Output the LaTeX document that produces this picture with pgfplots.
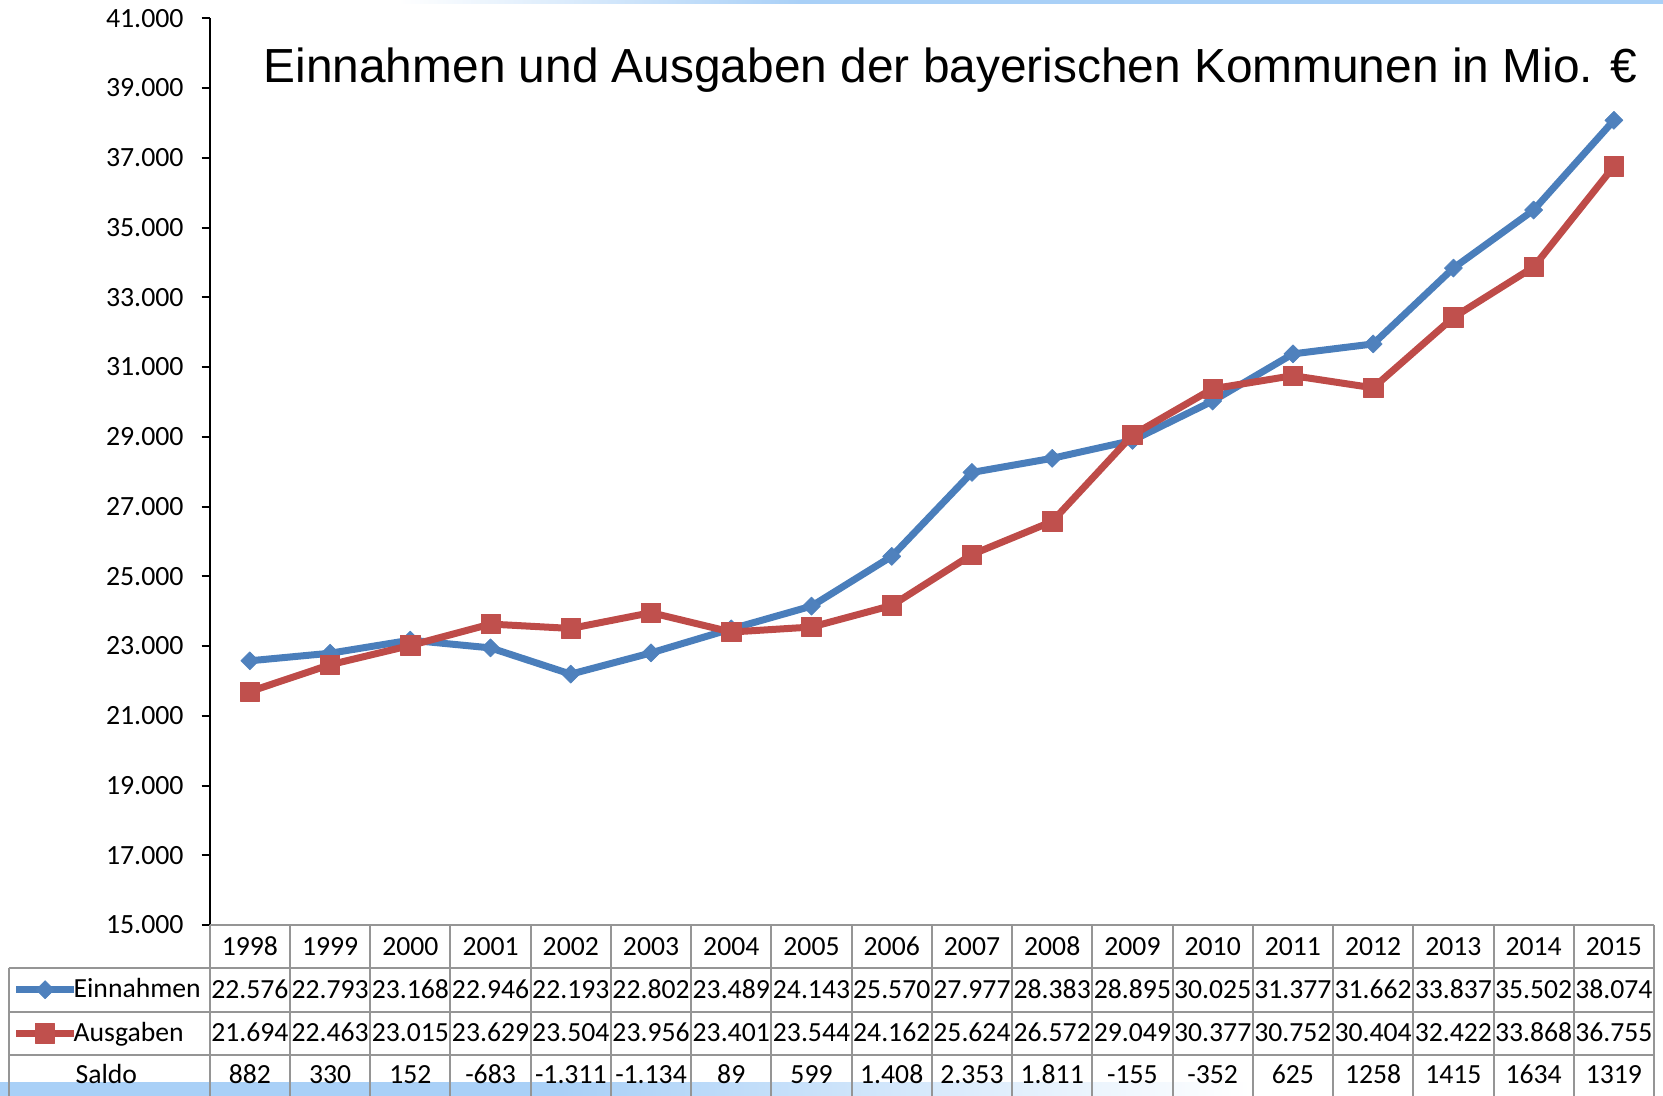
\documentclass[border=0pt]{standalone}
\usepackage{pgfplots}
\usepackage{pgfplotstable}
\pgfplotsset{compat=1.18}
\usepackage{fontspec}
\setmainfont{Carlito}
\newfontfamily\titlefont{Liberation Sans}
\definecolor{einL}{HTML}{4A7EBB}
\definecolor{einM}{HTML}{4F81BD}
\definecolor{ausL}{HTML}{BE4B48}
\definecolor{ausM}{HTML}{C0504D}
\definecolor{tabline}{HTML}{959595}
\definecolor{deco}{HTML}{A9D0F7}

\pgfplotstableread{
i ein aus
0 22576 21694
1 22793 22463
2 23168 23015
3 22946 23629
4 22193 23504
5 22802 23956
6 23489 23401
7 24143 23544
8 25570 24162
9 27977 25624
10 28383 26572
11 28895 29049
12 30025 30377
13 31377 30752
14 31662 30404
15 33837 32422
16 35502 33868
17 38074 36755
}\datatable

\newcommand\tabfont{\fontsize{8.3}{9.9}\selectfont}

\begin{document}
\begin{tikzpicture}
\useasboundingbox (0,0) rectangle (498.9pt,-328.8pt);
\begin{scope}[x=0.3pt,y=-0.3pt]
  \fill[deco] (0,1082) rectangle (560,1096);
  \shade[left color=deco,right color=white] (560,1082) rectangle (1250,1096);
  \shade[left color=white,right color=deco] (398,0) rectangle (800,4);
  \fill[deco] (800,0) rectangle (1663,4);
\end{scope}
\begin{axis}[
  at={(62.91pt,-277.5pt)}, anchor=south west,
  scale only axis, width=433.29pt, height=272.01pt,
  xmin=-0.5, xmax=17.5, ymin=15000, ymax=41000,
  clip=false,
  axis lines*=left,
  x axis line style={draw=none},
  y axis line style={black, line width=0.6pt, -},
  xtick=\empty,
  ytick={15000,17000,...,41000},
  scaled y ticks=false,
  tick align=outside,
  major tick length=2.4pt,
  ytick style={black, line width=0.6pt},
  yticklabel style={font=\fontsize{8.35}{10}\selectfont, xshift=-1.9pt},
  /pgf/number format/fixed,
  /pgf/number format/use comma,
  /pgf/number format/1000 sep={.},
  /pgf/number format/assume math mode=true,
  legend style={at={(-0.1362,-0.0474)}, anchor=north west, draw=none, fill=none,
    inner sep=0pt, outer sep=0pt, row sep=0pt, column sep=-1.1pt, font=\tabfont,
    nodes={inner sep=0pt, text height=9pt, text depth=4.05pt}},
  legend cell align=left,
  legend image code/.code={\draw[mark repeat=2,mark phase=2] plot coordinates {(0pt,0pt)(8.6pt,0pt)(17.2pt,0pt)};},
]
\addplot[einL, line width=2.1pt, line join=round, mark=diamond*, mark size=2.7pt,
  mark options={solid, fill=einM, draw=einM, line width=0.2pt, xscale=1.333}]
  table[x=i,y=ein]{\datatable};
\addlegendentry{Einnahmen}
\addplot[ausL, line width=2.1pt, line join=round, mark=square*, mark size=2.9pt,
  mark options={solid, fill=ausM, draw=ausM, line width=0.2pt}]
  table[x=i,y=aus]{\datatable};
\addlegendentry{Ausgaben}
\end{axis}
\begin{scope}[x=0.3pt,y=-0.3pt]
  \draw[tabline, line width=0.6pt] (209.7,925) -- (1654,925);
  \foreach \yy in {968,1011.5,1055} \draw[tabline, line width=0.6pt] (8.5,\yy) -- (1654,\yy);
  \draw[tabline, line width=0.6pt] (8.5,968) -- (8.5,1096);
  \foreach \k in {0,...,18} \draw[tabline, line width=0.6pt] ({209.7+80.24*\k},925) -- ({209.7+80.24*\k},1096);
  \foreach \v [count=\i from 0] in {1998,1999,2000,2001,2002,2003,2004,2005,2006,2007,2008,2009,2010,2011,2012,2013,2014,2015}
    \node[font=\tabfont, anchor=base, inner sep=0pt] at ({209.7+80.24*(\i+0.5)},955) {\v};
  \foreach \v [count=\i from 0] in {22.576,22.793,23.168,22.946,22.193,22.802,23.489,24.143,25.570,27.977,28.383,28.895,30.025,31.377,31.662,33.837,35.502,38.074}
    \node[font=\tabfont, anchor=base, inner sep=0pt] at ({209.7+80.24*(\i+0.5)},998) {\v};
  \foreach \v [count=\i from 0] in {21.694,22.463,23.015,23.629,23.504,23.956,23.401,23.544,24.162,25.624,26.572,29.049,30.377,30.752,30.404,32.422,33.868,36.755}
    \node[font=\tabfont, anchor=base, inner sep=0pt] at ({209.7+80.24*(\i+0.5)},1041) {\v};
  \foreach \v [count=\i from 0] in {882,330,152,-683,-1.311,-1.134,89,599,1.408,2.353,1.811,-155,-352,625,1258,1415,1634,1319}
    \node[font=\tabfont, anchor=base, inner sep=0pt] at ({209.7+80.24*(\i+0.5)},1083) {\v};
  \node[font=\tabfont, anchor=base west, inner sep=0pt] at (75,1083) {Saldo};
  \node[font=\titlefont\fontsize{14.35}{17}\selectfont, anchor=base west, inner sep=0pt] at (263,83) {Einnahmen und Ausgaben der bayerischen Kommunen in Mio. €};
\end{scope}
\end{tikzpicture}
\end{document}
